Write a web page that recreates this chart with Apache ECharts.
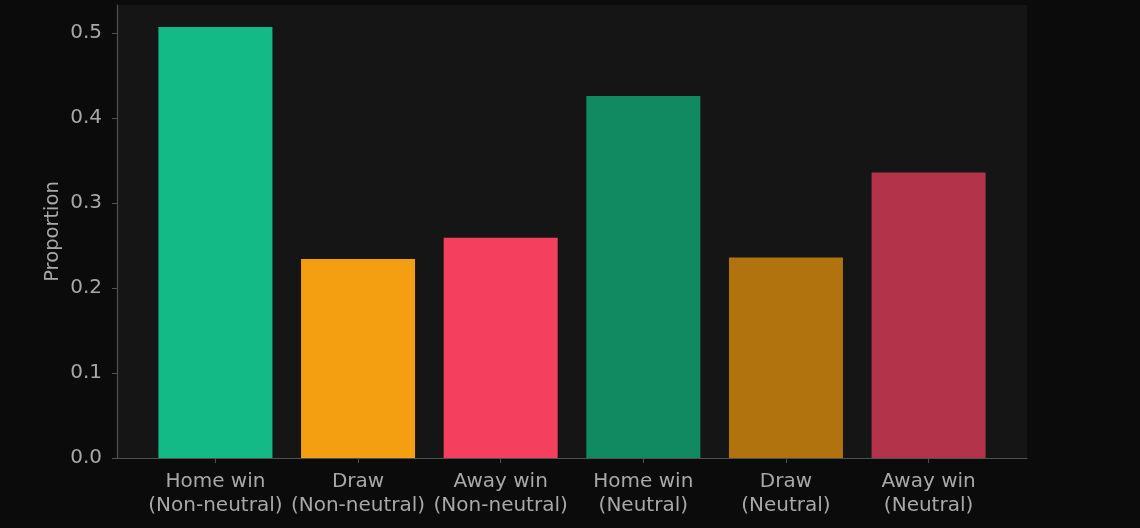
<!DOCTYPE html>
<html>
<head>
<meta charset="utf-8">
<script src="https://cdn.jsdelivr.net/npm/echarts@6/dist/echarts.min.js"></script>
<style>
  html, body { margin: 0; padding: 0; background: #0b0b0b; }
  #chart { width: 1140px; height: 528px; }
</style>
</head>
<body>
<div id="chart"></div>
<script>
// outcome proportions, non-neutral vs neutral venues
const categories = [
  'Home win\n(Non-neutral)', 'Draw\n(Non-neutral)', 'Away win\n(Non-neutral)',
  'Home win\n(Neutral)', 'Draw\n(Neutral)', 'Away win\n(Neutral)',
];
const proportions = [0.507, 0.234, 0.259, 0.426, 0.236, 0.336];
const barColors = ['#13ba85', '#f39f11', '#f43f5e', '#118a62', '#b0730e', '#b3344a'];
const yTicks = [0, 0.1, 0.2, 0.3, 0.4, 0.5];
const xTicks = categories.map((_, i) => i);

const chart = echarts.init(document.getElementById('chart'));
const textColor = '#a8a8a8';
const axisColor = '#505050';
const font = 'DejaVu Sans';

chart.setOption({
  backgroundColor: '#0b0b0b',
  animation: false,
  grid: {
    left: 117, right: 113, top: 5, bottom: 70,
    show: true, backgroundColor: '#151515', borderWidth: 0,
  },
  xAxis: {
    type: 'value', min: -0.69, max: 5.69,
    splitLine: { show: false },
    axisLine: { show: true, onZero: false, lineStyle: { color: axisColor, width: 1.2 } },
    axisTick: { show: true, customValues: xTicks, length: 5, lineStyle: { color: axisColor } },
    axisLabel: {
      customValues: xTicks, color: textColor, fontFamily: font, fontSize: 20,
      lineHeight: 24, margin: 12,
      formatter: v => categories[Math.round(v)],
    },
  },
  yAxis: {
    type: 'value', min: 0, max: 0.533,
    name: 'Proportion', nameLocation: 'middle', nameGap: 54, nameMoveOverlap: false,
    nameTextStyle: { color: textColor, fontFamily: font, fontSize: 19.5 },
    splitLine: { show: false },
    axisLine: { show: true, onZero: false, lineStyle: { color: axisColor, width: 1.2 } },
    axisTick: { show: true, customValues: yTicks, length: 5, lineStyle: { color: axisColor } },
    axisLabel: {
      customValues: yTicks, color: textColor, fontFamily: font, fontSize: 20, margin: 15,
      formatter: v => v.toFixed(1),
    },
  },
  series: [{
    type: 'bar',
    barWidth: 114,
    data: proportions.map((v, i) => ({
      value: [i, v],
      itemStyle: { color: barColors[i] },
    })),
  }],
});
</script>
</body>
</html>
